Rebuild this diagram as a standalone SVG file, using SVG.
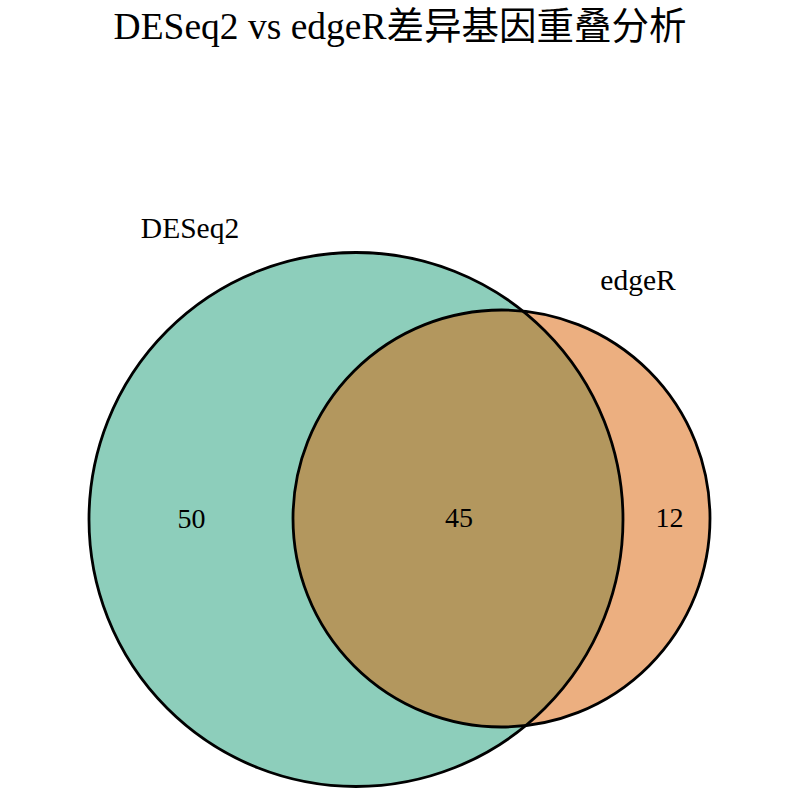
<svg xmlns="http://www.w3.org/2000/svg" width="800" height="800" viewBox="0 0 800 800">
<style>
.t{font-family:"Liberation Serif","Noto Sans CJK SC",serif;fill:#000}
.c{stroke:none;fill-opacity:0.5}
</style>
<rect width="800" height="800" fill="#fff"/>
<text class="t" x="400" y="39" font-size="37.5" text-anchor="middle">DESeq2 vs edgeR差异基因重叠分析</text>
<g id="DESeq2">
<circle class="c" cx="356" cy="519.5" r="267" fill="#1B9E77"/>
</g>
<g id="edgeR">
<circle class="c" cx="501.5" cy="518.5" r="208.5" fill="#D95F02"/>
</g>
<g id="outlines" fill="none" stroke="#000" stroke-width="2.8">
<circle cx="356" cy="519.5" r="267"/>
<circle cx="501.5" cy="518.5" r="208.5"/>
</g>
<g id="labels">
<text class="t" x="190" y="238" font-size="29.5" text-anchor="middle">DESeq2</text>
<text class="t" x="638" y="290" font-size="29.5" text-anchor="middle">edgeR</text>
<text class="t" x="191.5" y="528" font-size="28" text-anchor="middle">50</text>
<text class="t" x="459" y="527" font-size="28" text-anchor="middle">45</text>
<text class="t" x="669.5" y="527" font-size="28" text-anchor="middle">12</text>
</g>
</svg>
